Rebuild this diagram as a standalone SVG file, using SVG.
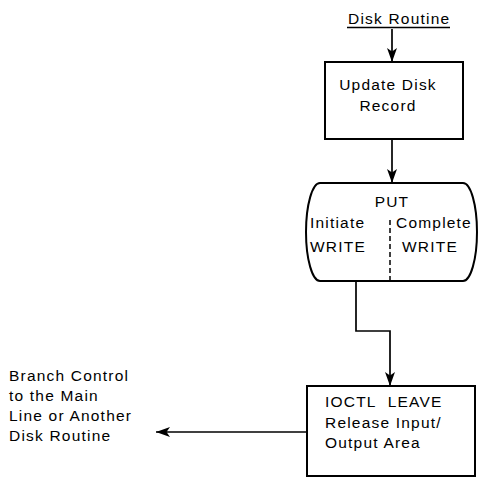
<svg xmlns="http://www.w3.org/2000/svg" width="479" height="487" viewBox="0 0 479 487">
<style>
text{font-family:"Liberation Sans",Arial,sans-serif;font-size:15.5px;fill:#000;letter-spacing:1.2px}
.n{fill:#fff;stroke:#000;stroke-width:2}
.c{fill:none;stroke:#000;stroke-width:1.7}
.m{text-anchor:middle}
</style>
<defs>
<marker id="ah" viewBox="0 0 14 11" refX="14" refY="5.5" markerWidth="14" markerHeight="11" markerUnits="userSpaceOnUse" orient="auto">
<path d="M0,0.5 L14,5.5 L0,10.5 L3.5,5.5 Z" fill="#000"/>
</marker>
</defs>
<g id="connectors">
<line class="c" x1="392" y1="29" x2="392" y2="62" marker-end="url(#ah)"/>
<line class="c" x1="392" y1="139" x2="392" y2="183" marker-end="url(#ah)"/>
<polyline class="c" points="356,281 356,331 390,331 390,386" marker-end="url(#ah)"/>
<line class="c" x1="307" y1="432" x2="156" y2="432" marker-end="url(#ah)"/>
</g>
<g id="start">
<text x="348" y="24">Disk Routine</text>
<line x1="347" y1="27.5" x2="450" y2="27.5" stroke="#000" stroke-width="1.5"/>
</g>
<g id="update">
<rect class="n" x="325" y="62" width="138" height="77"/>
<text class="m" x="388" y="90">Update Disk</text>
<text class="m" x="388" y="111">Record</text>
</g>
<g id="put">
<path class="n" d="M320,183 L463,183 A14,49 0 0 1 463,281 L320,281 A14,49 0 0 1 320,183 Z"/>
<text class="m" x="392" y="207">PUT</text>
<text x="310" y="228">Initiate</text>
<text x="310" y="252">WRITE</text>
<text x="396" y="228">Complete</text>
<text x="402" y="252">WRITE</text>
<line x1="390" y1="220" x2="390" y2="280" stroke="#000" stroke-width="1.5" stroke-dasharray="5,3"/>
</g>
<g id="ioctl">
<rect class="n" x="307" y="386" width="168" height="90"/>
<text x="325" y="407">IOCTL&#160; LEAVE</text>
<text x="325" y="428">Release Input/</text>
<text x="325" y="448">Output Area</text>
</g>
<g id="branch">
<text x="9" y="381">Branch Control</text>
<text x="9" y="401">to the Main</text>
<text x="9" y="421">Line or Another</text>
<text x="9" y="441">Disk Routine</text>
</g>
</svg>
